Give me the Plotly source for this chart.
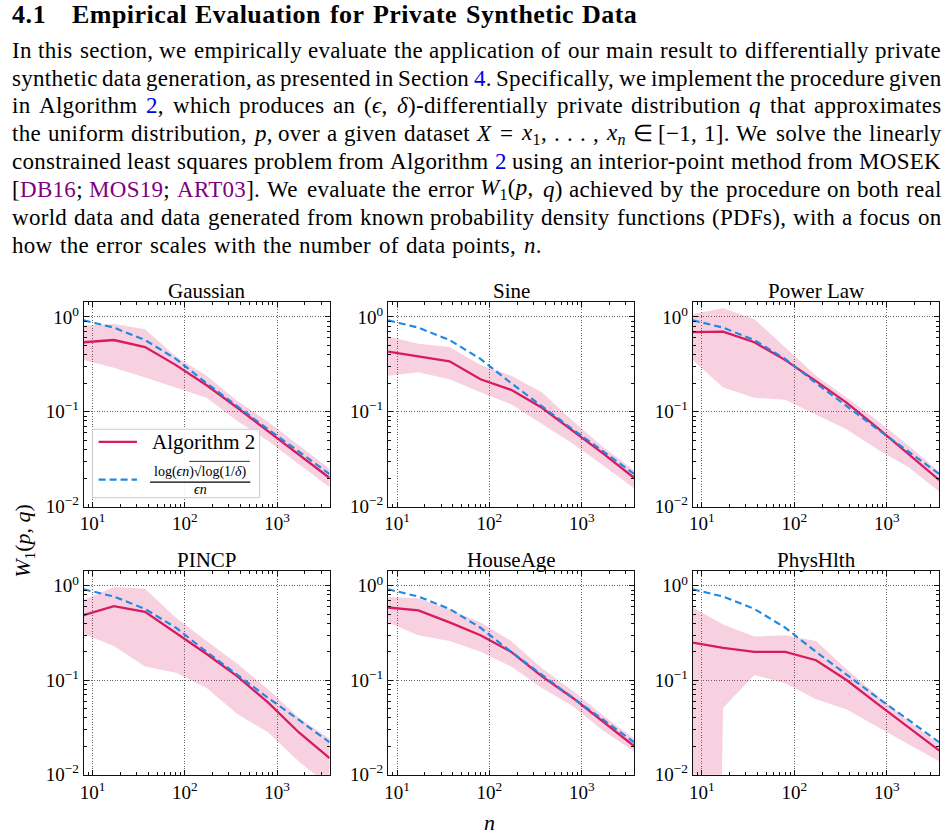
import re
import math
import plotly.graph_objects as go

# ---------------- data ----------------
n_values = [8, 17, 37, 80, 172, 370, 800, 1720, 3700]
bound = [0.92, 0.77, 0.57, 0.36, 0.20, 0.114, 0.065, 0.038, 0.022]

panel_titles = ["Gaussian", "Sine", "Power Law", "PINCP", "HouseAge", "PhysHlth"]

gaussian_mean = [0.54, 0.57, 0.48, 0.31, 0.19, 0.11, 0.062, 0.035, 0.020]
gaussian_upper = [0.81, 0.84, 0.74, 0.38, 0.24, 0.13, 0.078, 0.044, 0.025]
gaussian_lower = [0.35, 0.29, 0.23, 0.18, 0.14, 0.08, 0.049, 0.028, 0.016]

sine_mean = [0.43, 0.38, 0.34, 0.22, 0.17, 0.11, 0.063, 0.036, 0.020]
sine_upper = [0.62, 0.52, 0.48, 0.31, 0.24, 0.16, 0.08, 0.042, 0.024]
sine_lower = [0.24, 0.26, 0.22, 0.16, 0.12, 0.074, 0.046, 0.027, 0.0155]

power_mean = [0.69, 0.70, 0.54, 0.35, 0.21, 0.124, 0.067, 0.036, 0.019]
power_upper = [1.07, 1.23, 0.95, 0.48, 0.24, 0.14, 0.08, 0.044, 0.023]
power_lower = [0.35, 0.18, 0.14, 0.134, 0.093, 0.065, 0.04, 0.026, 0.0143]

pincp_mean = [0.49, 0.61, 0.53, 0.32, 0.19, 0.11, 0.058, 0.028, 0.015]
pincp_upper = [0.71, 0.97, 0.93, 0.46, 0.26, 0.15, 0.08, 0.04, 0.024]
pincp_lower = [0.31, 0.23, 0.14, 0.12, 0.083, 0.044, 0.028, 0.0138, 0.0075]

house_mean = [0.59, 0.55, 0.41, 0.30, 0.20, 0.11, 0.065, 0.036, 0.020]
house_upper = [0.76, 0.74, 0.56, 0.41, 0.26, 0.134, 0.077, 0.042, 0.024]
house_lower = [0.41, 0.30, 0.26, 0.20, 0.14, 0.083, 0.053, 0.029, 0.0175]

phys_mean = [0.25, 0.22, 0.20, 0.20, 0.163, 0.10, 0.056, 0.032, 0.018]
phys_upper = [0.59, 0.39, 0.29, 0.30, 0.26, 0.13, 0.068, 0.037, 0.021]
phys_lower = [1e-20, 0.051, 0.114, 0.093, 0.063, 0.049, 0.032, 0.021, 0.0138]  # first value ~0 (mean-std <= 0)

means = [gaussian_mean, sine_mean, power_mean, pincp_mean, house_mean, phys_mean]
uppers = [gaussian_upper, sine_upper, power_upper, pincp_upper, house_upper, phys_upper]
lowers = [gaussian_lower, sine_lower, power_lower, pincp_lower, house_lower, phys_lower]

x_tick_vals = [10, 100, 1000]
x_tick_text = ["10<sup>1</sup>", "10<sup>2</sup>", "10<sup>3</sup>"]
y_tick_vals = [0.01, 0.1, 1]
y_tick_text = ["10<sup>\u22122</sup>", "10<sup>\u22121</sup>", "10<sup>0</sup>"]
x_minor = [9] + [k * 10 for k in range(2, 10)] + [k * 100 for k in range(2, 10)] + [2000, 3000]
y_minor = [k / 100 for k in range(2, 10)] + [k / 10 for k in range(2, 10)]

# ---------------- style ----------------
W, H = 949, 840
SERIF = "Liberation Serif"
RED = "#D81B60"
BLUE = "#1E88E5"
FILL = "rgba(216,27,96,0.2)"
BLUE_LINK = "#0000EE"
PURPLE = "#800080"


def px(x):
    return x / W


def py(y):
    return 1 - y / H


col_x = [(80, 327), (385.7, 633), (691.7, 939.3)]
row_y = [(305.7, 513.3), (578.3, 785)]

fig = go.Figure()
layout_axes = {}
annotations = []
shapes = []

for i in range(6):
    r, c = divmod(i, 3)
    k = i + 1
    xa = "x" if k == 1 else f"x{k}"
    ya = "y" if k == 1 else f"y{k}"
    fig.add_trace(go.Scatter(x=n_values, y=uppers[i], mode="lines", line=dict(width=0),
                             xaxis=xa, yaxis=ya, showlegend=False, hoverinfo="skip"))
    fig.add_trace(go.Scatter(x=n_values, y=lowers[i], mode="lines", line=dict(width=0),
                             fill="tonexty", fillcolor=FILL,
                             xaxis=xa, yaxis=ya, showlegend=False, hoverinfo="skip"))
    fig.add_trace(go.Scatter(x=n_values, y=means[i], mode="lines", line=dict(color=RED, width=2.3),
                             xaxis=xa, yaxis=ya, showlegend=False, name="Algorithm 2"))
    fig.add_trace(go.Scatter(x=n_values, y=bound, mode="lines",
                             line=dict(color=BLUE, width=2.1, dash="7px,4px"),
                             xaxis=xa, yaxis=ya, showlegend=False, name="bound"))

    x0, x1 = col_x[c]
    yt, yb = row_y[r]
    common = dict(showline=True, linecolor="#111111", linewidth=1.1, mirror="allticks",
                  ticks="inside", ticklen=5, tickwidth=1, tickcolor="#111111",
                  tickfont=dict(family=SERIF, size=19, color="black"),
                  showgrid=True, gridcolor="#666666", griddash="1px,1.6px", gridwidth=0.8,
                  zeroline=False, type="log")
    layout_axes["xaxis" if k == 1 else f"xaxis{k}"] = dict(
        common, domain=[px(x0), px(x1)], anchor=ya,
        range=[math.log10(8), math.log10(3700)],
        tickmode="array", tickvals=x_tick_vals, ticktext=x_tick_text,
        minor=dict(ticks="inside", ticklen=3, tickwidth=0.8, tickcolor="#111111",
                   tickmode="array", tickvals=x_minor, showgrid=False))
    layout_axes["yaxis" if k == 1 else f"yaxis{k}"] = dict(
        common, domain=[py(yb), py(yt)], anchor=xa,
        range=[-2, 0.16],
        tickmode="array", tickvals=y_tick_vals, ticktext=y_tick_text,
        minor=dict(ticks="inside", ticklen=3, tickwidth=0.8, tickcolor="#111111",
                   tickmode="array", tickvals=y_minor, showgrid=False))
    annotations.append(dict(text=panel_titles[i], x=px((x0 + x1) / 2), y=py(yt),
                            xref="paper", yref="paper", xanchor="center", yanchor="bottom",
                            yshift=-3, showarrow=False,
                            font=dict(family=SERIF, size=21, color="black")))

# ---------------- legend (drawn in Gaussian panel) ----------------
shapes.append(dict(type="rect", xref="paper", yref="paper",
                   x0=px(89), x1=px(256.7), y0=py(504.3), y1=py(435),
                   line=dict(color="#cccccc", width=1), fillcolor="rgba(255,255,255,0.85)",
                   layer="above"))
shapes.append(dict(type="line", xref="paper", yref="paper",
                   x0=px(95), x1=px(133.5), y0=py(447.7), y1=py(447.7),
                   line=dict(color=RED, width=2.3), layer="above"))
shapes.append(dict(type="line", xref="paper", yref="paper",
                   x0=px(95), x1=px(133.5), y0=py(486), y1=py(486),
                   line=dict(color=BLUE, width=2.1, dash="7px,4px"), layer="above"))
shapes.append(dict(type="line", xref="paper", yref="paper",
                   x0=px(146.7), x1=px(247.3), y0=py(488.5), y1=py(488.5),
                   line=dict(color="black", width=1.3), layer="above"))
shapes.append(dict(type="line", xref="paper", yref="paper",
                   x0=px(186), x1=px(247), y0=py(467.5), y1=py(467.5),
                   line=dict(color="black", width=0.8), layer="above"))
annotations.append(dict(text="Algorithm 2", x=px(147), y=py(447.5), xref="paper", yref="paper",
                        xanchor="left", yanchor="middle", showarrow=False,
                        font=dict(family=SERIF, size=21, color="black")))
annotations.append(dict(text="log(<i>\u03f5n</i>)\u221alog(1/<i>\u03b4</i>)", x=px(197), y=py(478),
                        xref="paper", yref="paper", xanchor="center", yanchor="middle",
                        showarrow=False, font=dict(family=SERIF, size=14, color="black")))
annotations.append(dict(text="<i>\u03f5n</i>", x=px(197), y=py(496), xref="paper", yref="paper",
                        xanchor="center", yanchor="middle", showarrow=False,
                        font=dict(family=SERIF, size=14, color="black")))

# ---------------- axis labels ----------------
annotations.append(dict(text="<i>W</i><sub>1</sub>(<i>p</i>, <i>q</i>)", x=px(20), y=py(548),
                        xref="paper", yref="paper", xanchor="center", yanchor="middle",
                        textangle=-90, showarrow=False,
                        font=dict(family=SERIF, size=22, color="black")))
annotations.append(dict(text="<i>n</i>", x=px(488), y=py(833), xref="paper", yref="paper",
                        xanchor="center", yanchor="middle", showarrow=False,
                        font=dict(family=SERIF, size=22, color="black")))

# ---------------- section text (word-by-word justified) ----------------
ROMAN = {" ": 250, "!": 333, "(": 333, ")": 333, ",": 250, "-": 333, ".": 250, "/": 278,
         ":": 278, ";": 278, "=": 564, "[": 333, "]": 333,
         "A": 722, "B": 667, "C": 667, "D": 722, "E": 611, "F": 556, "G": 722, "H": 722,
         "I": 333, "J": 389, "K": 722, "L": 611, "M": 889, "N": 722, "O": 722, "P": 556,
         "Q": 722, "R": 667, "S": 556, "T": 611, "U": 722, "V": 722, "W": 944, "X": 722,
         "Y": 722, "Z": 611,
         "a": 444, "b": 500, "c": 444, "d": 500, "e": 444, "f": 333, "g": 500, "h": 500,
         "i": 278, "j": 278, "k": 500, "l": 278, "m": 778, "n": 500, "o": 500, "p": 500,
         "q": 500, "r": 333, "s": 389, "t": 278, "u": 500, "v": 500, "w": 722, "x": 500,
         "y": 500, "z": 444,
         "\u03f5": 440, "\u03b4": 500, "\u2208": 760, "\u2212": 564}
BOLD = dict(ROMAN, **{"a": 500, "b": 556, "d": 556, "h": 556, "k": 556, "m": 833, "n": 556,
                      "p": 556, "q": 556, "r": 444, "t": 333, "u": 556, "E": 667, "P": 611,
                      "D": 722})


def text_width(s, size, table, ls):
    w = 0.0
    scale = 1.0
    for tok in re.split(r"(<[^>]+>)", s):
        if tok.startswith("<"):
            if tok in ("<sub>", "<sup>"):
                scale = 0.7
            elif tok in ("</sub>", "</sup>"):
                scale = 1.0
            continue
        for ch in tok:
            w += table.get(ch, 500) / 1000.0 * size * scale + ls
    return w


def place_words(words, left, right, yc, size, table, ls, justify=True, gap=None, bold=False):
    widths = [text_width(wd, size, table, ls) for wd in words]
    if justify and len(words) > 1:
        g = (right - left - sum(widths)) / (len(words) - 1)
    else:
        g = gap if gap is not None else table[" "] / 1000.0 * size + 1.5
    x = left
    for wd, w in zip(words, widths):
        txt = f"<span style='letter-spacing:{ls}px'>{wd}</span>"
        if bold:
            txt = f"<b>{txt}</b>"
        annotations.append(dict(text=txt, x=px(x), y=py(yc), xref="paper", yref="paper",
                                xanchor="left", yanchor="middle", showarrow=False,
                                borderpad=0, borderwidth=0,
                                font=dict(family=SERIF, size=size, color="black")))
        x += w + g


def blue(s):
    return f"<span style='color:{BLUE_LINK}'>{s}</span>"


def purple(s):
    return f"<span style='color:{PURPLE}'>{s}</span>"


heading_num = "4.1"
heading_words = ["Empirical", "Evaluation", "for", "Private", "Synthetic", "Data"]
HEAD = 26
place_words([heading_num], 8, 60, 15, HEAD, BOLD, 0.6, justify=False, bold=True)
place_words(heading_words, 68, 636, 15, HEAD, BOLD, 0.45, justify=True, bold=True)

lines = [
    "In this section, we empirically evaluate the application of our main result to differentially private",
    f"synthetic data generation, as presented in Section {blue('4')}. Specifically, we implement the procedure given",
    f"in Algorithm {blue('2')}, which produces an (<i>\u03f5</i>, <i>\u03b4</i>)-differentially private distribution <i>q</i> that approximates",
    "the uniform distribution, <i>p</i>, over a given dataset <i>X</i> = <i>x</i><sub>1</sub>, . . . , <i>x<sub>n</sub></i> \u2208 [\u22121, 1]. We solve the linearly",
    f"constrained least squares problem from Algorithm {blue('2')} using an interior-point method from MOSEK",
    f"[{purple('DB16')}; {purple('MOS19')}; {purple('ART03')}]. We evaluate the error <i>W</i><sub>1</sub>(<i>p</i>, <i>q</i>) achieved by the procedure on both real",
    "world data and data generated from known probability density functions (PDFs), with a focus on",
    "how the error scales with the number of data points, <i>n</i>.",
]
BODY = 23
line_y0, line_dy = 51, 28.2
LEFT, RIGHT = 8, 941

for li, line in enumerate(lines):
    yc = line_y0 + li * line_dy
    # split on spaces that are outside tags
    words = re.split(r" (?![^<]*>)", line)
    last = li == len(lines) - 1
    place_words(words, LEFT, RIGHT, yc, BODY, ROMAN, 0.3, justify=not last, gap=7.5)

fig.update_layout(width=W, height=H, margin=dict(l=0, r=0, t=0, b=0),
                  paper_bgcolor="white", plot_bgcolor="white",
                  showlegend=False, annotations=annotations, shapes=shapes, **layout_axes)

fig.write_html("out.html")
